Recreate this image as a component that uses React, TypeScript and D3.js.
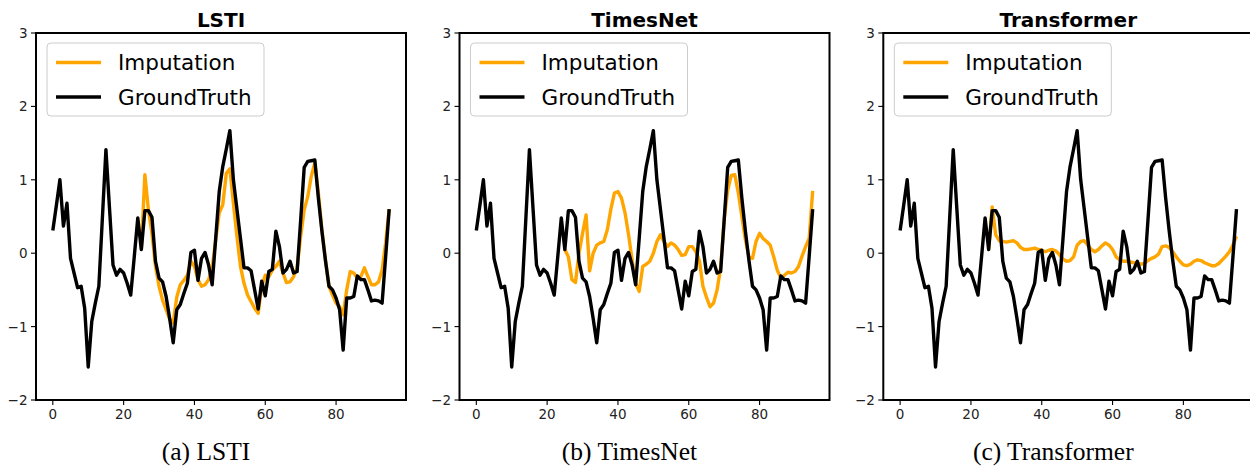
import React from "react";
import * as d3 from "d3";

// Ground-truth series (96 steps), shared by every panel
const groundTruth: number[] = [
  0.31, 0.65, 1.0, 0.37, 0.68, -0.07, -0.27, -0.47, -0.45, -0.75,
  -1.55, -0.93, -0.68, -0.45, 0.48, 1.41, 0.62, -0.16, -0.3, -0.22,
  -0.27, -0.41, -0.57, -0.05, 0.48, 0.05, 0.58, 0.58, 0.49, -0.11,
  -0.34, -0.39, -0.59, -0.89, -1.22, -0.77, -0.7, -0.55, -0.41, 0.01,
  0.04, -0.37, -0.07, 0.01, -0.16, -0.43, 0.2, 0.84, 1.18, 1.42,
  1.67, 1.0, 0.6, 0.2, -0.2, -0.2, -0.24, -0.5, -0.76, -0.38,
  -0.58, -0.25, -0.22, 0.3, 0.09, -0.27, -0.22, -0.11, -0.27, -0.25,
  0.45, 1.17, 1.25, 1.26, 1.27, 0.75, 0.3, -0.1, -0.45, -0.5,
  -0.61, -0.77, -1.32, -0.61, -0.61, -0.59, -0.31, -0.36, -0.36, -0.5,
  -0.65, -0.64, -0.65, -0.68, -0.05, 0.6,
];

// Imputed values start at step 25
const imputeStart = 25;

const lstiImputation: number[] = [
  0.05, 1.07, 0.59, 0.27, -0.18, -0.45, -0.64, -0.77, -0.9, -0.95,
  -0.6, -0.43, -0.37, -0.3, -0.11, -0.18, -0.36, -0.45, -0.43, -0.36,
  -0.2, 0.18, 0.55, 0.66, 1.09, 1.15, 0.68, 0.23, -0.18, -0.41,
  -0.57, -0.66, -0.75, -0.82, -0.45, -0.3, -0.32, -0.23, -0.18, -0.11,
  -0.27, -0.4, -0.39, -0.32, -0.2, 0.23, 0.59, 0.77, 1.05, 1.23,
  0.82, 0.32, -0.09, -0.45, -0.57, -0.68, -0.73, -0.84, -0.5, -0.25,
  -0.27, -0.34, -0.32, -0.2, -0.32, -0.43, -0.43, -0.39, -0.23, 0.14,
  0.6,
];

const timesNetImputation: number[] = [
  0.05, -0.05, -0.36, -0.4, 0.0, 0.27, 0.52, -0.24, 0.0, 0.11,
  0.14, 0.16, 0.32, 0.6, 0.82, 0.84, 0.75, 0.55, 0.25, -0.09,
  -0.41, -0.52, -0.18, -0.15, -0.11, 0.0, 0.16, 0.25, 0.16, 0.09,
  0.14, 0.11, 0.05, -0.03, -0.02, 0.09, 0.09, 0.02, -0.1, -0.45,
  -0.6, -0.73, -0.68, -0.5, -0.2, 0.45, 0.86, 1.06, 1.07, 0.82,
  0.5, 0.18, -0.05, -0.07, 0.16, 0.27, 0.2, 0.16, 0.11, -0.05,
  -0.23, -0.34, -0.3, -0.26, -0.27, -0.25, -0.18, -0.04, 0.09, 0.2,
  0.85,
];

const transformerImputation: number[] = [
  0.05, 0.63, 0.25, 0.17, 0.16, 0.15, 0.16, 0.17, 0.14, 0.08,
  0.05, 0.05, 0.06, 0.07, 0.05, 0.04, 0.02, 0.04, 0.05, 0.03,
  -0.02, -0.08, -0.11, -0.1, -0.05, 0.11, 0.16, 0.17, 0.11, 0.05,
  0.02, 0.05, 0.1, 0.14, 0.11, 0.05, -0.05, -0.09, -0.11, -0.11,
  -0.12, -0.13, -0.14, -0.15, -0.14, -0.1, -0.07, -0.05, -0.01, 0.09,
  0.1, 0.08, 0.02, -0.05, -0.11, -0.16, -0.17, -0.15, -0.11, -0.09,
  -0.1, -0.13, -0.15, -0.17, -0.17, -0.14, -0.09, -0.04, 0.02, 0.11,
  0.23,
];

const panelTitles = ["LSTI", "TimesNet", "Transformer"];
const panelCaptions = ["(a) LSTI", "(b) TimesNet", "(c) Transformer"];
const imputations = [lstiImputation, timesNetImputation, transformerImputation];
const legendLabels = ["Imputation", "GroundTruth"];

const xTicks = [0, 20, 40, 60, 80];
const yTicks = [-2, -1, 0, 1, 2, 3];

const WIDTH = 1250;
const HEIGHT = 466;
const PANEL_LEFTS = [36, 459.5, 883.3];
const PANEL_W = 370;
const PLOT_TOP = 33;
const PLOT_BOTTOM = 400;

const ORANGE = "#FFA500";
const SANS = "'DejaVu Sans', sans-serif";

function fmtTick(v: number): string {
  return v < 0 ? "\u2212" + Math.abs(v) : String(v);
}

function Panel({ index }: { index: number }) {
  const left = PANEL_LEFTS[index];
  const right = left + PANEL_W;
  const x = d3.scaleLinear().domain([-4.75, 99.75]).range([left, right]);
  const y = d3.scaleLinear().domain([-2, 3]).range([PLOT_BOTTOM, PLOT_TOP]);

  const line = d3
    .line<[number, number]>()
    .x((d) => x(d[0]))
    .y((d) => y(d[1]));

  const gtPts: [number, number][] = groundTruth.map((v, i) => [i, v]);
  const impPts: [number, number][] = imputations[index].map((v, i) => [
    i + imputeStart,
    v,
  ]);

  const clipId = `clip-${index}`;
  const cx = (left + right) / 2;

  // legend geometry
  const lgX = left + 11;
  const lgY = PLOT_TOP + 10;
  const lgW = 217;
  const lgH = 73;

  return (
    <g>
      <defs>
        <clipPath id={clipId}>
          <rect x={left} y={PLOT_TOP} width={PANEL_W} height={PLOT_BOTTOM - PLOT_TOP} />
        </clipPath>
      </defs>

      <g clipPath={`url(#${clipId})`}>
        <path
          d={line(impPts) || ""}
          fill="none"
          stroke={ORANGE}
          strokeWidth={3.4}
          strokeLinejoin="round"
        />
        <path
          d={line(gtPts) || ""}
          fill="none"
          stroke="#000"
          strokeWidth={3.4}
          strokeLinejoin="round"
        />
      </g>

      {/* legend */}
      <rect
        x={lgX}
        y={lgY}
        width={lgW}
        height={lgH}
        rx={4}
        fill="#fff"
        fillOpacity={0.8}
        stroke="#cccccc"
        strokeWidth={1}
      />
      {legendLabels.map((lab, k) => {
        const ly = lgY + 19.5 + k * 34.5;
        return (
          <g key={lab}>
            <line
              x1={lgX + 9}
              x2={lgX + 54}
              y1={ly}
              y2={ly}
              stroke={k === 0 ? ORANGE : "#000"}
              strokeWidth={3.4}
            />
            <text
              x={lgX + 71}
              y={ly + 7.5}
              fontFamily={SANS}
              fontSize={21.5}
              fill="#000"
            >
              {lab}
            </text>
          </g>
        );
      })}

      {/* frame */}
      <rect
        x={left}
        y={PLOT_TOP}
        width={PANEL_W}
        height={PLOT_BOTTOM - PLOT_TOP}
        fill="none"
        stroke="#000"
        strokeWidth={2}
      />

      {/* x ticks */}
      {xTicks.map((t) => (
        <g key={`x${t}`}>
          <line x1={x(t)} x2={x(t)} y1={PLOT_BOTTOM} y2={PLOT_BOTTOM + 5} stroke="#000" strokeWidth={1.1} />
          <text
            x={x(t)}
            y={PLOT_BOTTOM + 19}
            textAnchor="middle"
            fontFamily={SANS}
            fontSize={13.5}
            fill="#222"
          >
            {fmtTick(t)}
          </text>
        </g>
      ))}

      {/* y ticks */}
      {yTicks.map((t) => (
        <g key={`y${t}`}>
          <line x1={left - 5} x2={left} y1={y(t)} y2={y(t)} stroke="#000" strokeWidth={1.1} />
          <text
            x={left - 8.5}
            y={y(t) + 5}
            textAnchor="end"
            fontFamily={SANS}
            fontSize={13.5}
            fill="#222"
          >
            {fmtTick(t)}
          </text>
        </g>
      ))}

      {/* title */}
      <text
        x={cx}
        y={27}
        textAnchor="middle"
        fontFamily={SANS}
        fontWeight="bold"
        fontSize={20}
        fill="#000"
      >
        {panelTitles[index]}
      </text>

      {/* caption, centred under the whole subfigure including tick labels */}
      <text
        x={cx - 15}
        y={460}
        textAnchor="middle"
        fontFamily="'Liberation Serif', 'DejaVu Serif', serif"
        fontSize={25.5}
        fill="#000"
      >
        {panelCaptions[index]}
      </text>
    </g>
  );
}

export default function App() {
  return (
    <svg
      width={WIDTH}
      height={HEIGHT}
      viewBox={`0 0 ${WIDTH} ${HEIGHT}`}
      style={{ position: "absolute", left: 0, top: 0, background: "#fff" }}
    >
      <rect x={0} y={0} width={WIDTH} height={HEIGHT} fill="#fff" />
      {[0, 1, 2].map((i) => (
        <Panel key={i} index={i} />
      ))}
    </svg>
  );
}
